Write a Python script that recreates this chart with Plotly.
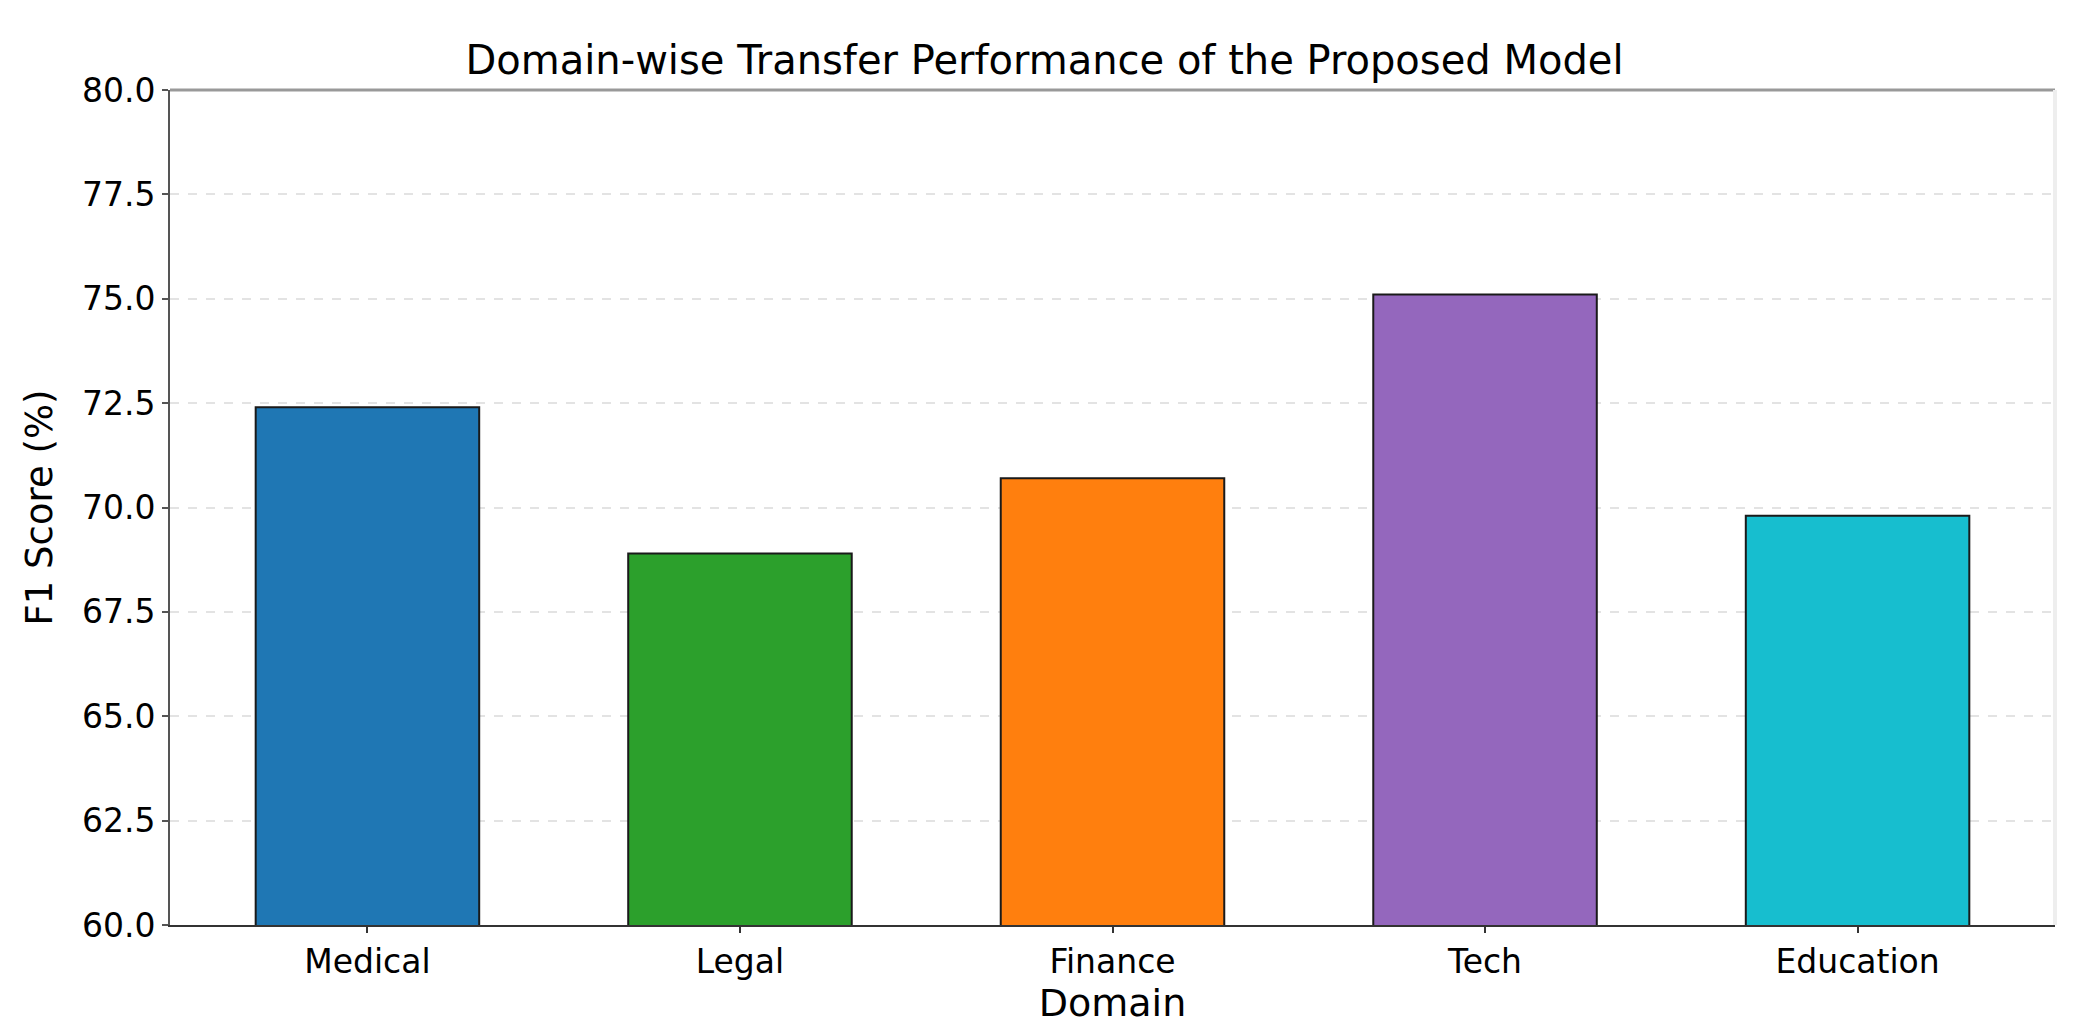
import plotly.graph_objects as go

categories = ["Medical", "Legal", "Finance", "Tech", "Education"]
f1_scores = [72.4, 68.9, 70.7, 75.1, 69.8]
bar_colors = ["#1f77b4", "#2ca02c", "#ff7f0e", "#9467bd", "#17becf"]
y_ticks = [60.0, 62.5, 65.0, 67.5, 70.0, 72.5, 75.0, 77.5, 80.0]
y_tick_labels = ["%.1f" % v for v in y_ticks]

FONT = "DejaVu Sans"

fig = go.Figure()
fig.add_trace(go.Bar(
    x=categories,
    y=f1_scores,
    width=0.6,
    marker=dict(color=bar_colors, line=dict(color="#1a1a1a", width=2)),
    showlegend=False,
))

fig.update_layout(
    width=2073,
    height=1029,
    margin=dict(l=162, r=26, t=82, b=112),
    paper_bgcolor="white",
    plot_bgcolor="white",
    font=dict(family=FONT, color="black", size=33),
    title=dict(
        text="Domain-wise Transfer Performance of the Proposed Model",
        font=dict(family=FONT, size=40, color="black"),
        x=0.5,
        xanchor="center",
        xref="container",
        yref="container",
        y=1 - 52 / 1029,
        yanchor="middle",
    ),
    xaxis=dict(
        range=[-0.53, 4.53],
        showline=True,
        linecolor="#333333",
        linewidth=2,
        ticks="outside",
        ticklen=6,
        tickwidth=2,
        tickcolor="#333333",
        showgrid=False,
        zeroline=False,
        tickfont=dict(family=FONT, size=33, color="black"),
        title=dict(text="Domain", font=dict(family=FONT, size=38, color="black"), standoff=6),
    ),
    yaxis=dict(
        range=[60, 80],
        tickvals=y_ticks,
        ticktext=y_tick_labels,
        showline=True,
        linecolor="#555555",
        linewidth=2,
        ticks="outside",
        ticklen=6,
        tickwidth=2,
        tickcolor="#555555",
        showgrid=True,
        gridcolor="#e3e3e3",
        gridwidth=1.5,
        griddash="dash",
        zeroline=False,
        tickfont=dict(family=FONT, size=33, color="black"),
        title=dict(text="F1 Score (%)", font=dict(family=FONT, size=37, color="black"), standoff=18),
    ),
    shapes=[
        dict(type="line", xref="paper", yref="paper", x0=0, x1=1, y0=1, y1=1,
             line=dict(color="#999999", width=3)),
        dict(type="line", xref="paper", yref="paper", x0=1, x1=1, y0=0, y1=1,
             line=dict(color="#eeeeee", width=4)),
    ],
)

fig.write_html("out.html")
